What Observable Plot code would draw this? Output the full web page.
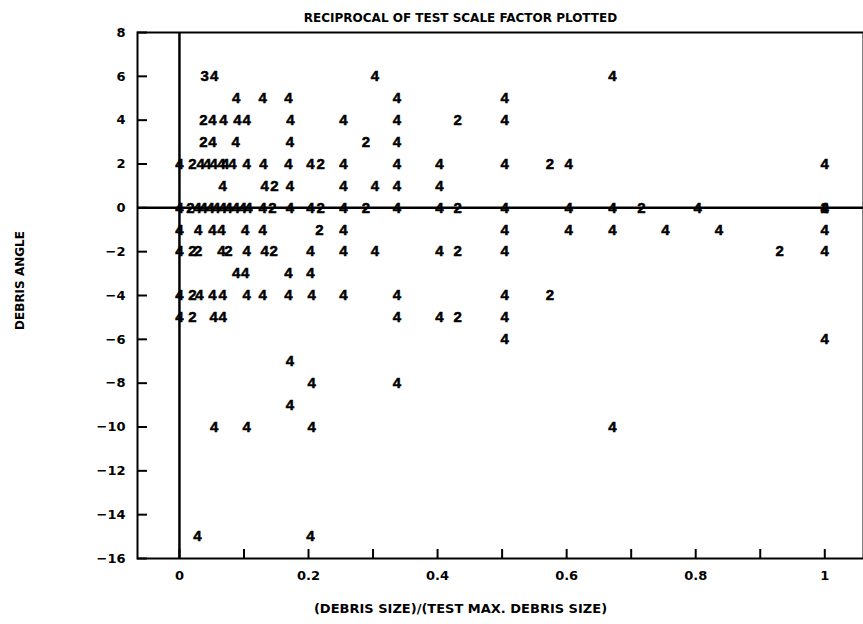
<!DOCTYPE html>
<html><head><meta charset="utf-8">
<script src="https://cdn.jsdelivr.net/npm/d3@7"></script>
<script src="https://cdn.jsdelivr.net/npm/@observablehq/plot@0.6"></script>
<style>body{margin:0;background:#fff;} svg{display:block}</style>
</head><body><div id="chart"></div>
<script>
// Plotted symbols: x = (debris size)/(test max debris size), y = debris angle, s = symbol
const xVals = [
  // y = 6
  0.039, 0.054, 0.303, 0.671,
  // y = 5
  0.088, 0.129, 0.169, 0.337, 0.504,
  // y = 4
  0.037, 0.051, 0.068, 0.090, 0.104, 0.172, 0.254, 0.337, 0.431, 0.504,
  // y = 3
  0.037, 0.051, 0.087, 0.171, 0.289, 0.337,
  // y = 2
  0, 0.020, 0.033, 0.043, 0.053, 0.065, 0.071, 0.082, 0.104, 0.130, 0.169, 0.203, 0.219, 0.254, 0.337, 0.403, 0.504, 0.574, 0.603, 1.0,
  // y = 1
  0.067, 0.132, 0.147, 0.171, 0.254, 0.303, 0.337, 0.403,
  // y = 0
  0, 0.017, 0.028, 0.037, 0.048, 0.057, 0.067, 0.076, 0.087, 0.098, 0.107, 0.129, 0.144, 0.171, 0.203, 0.219, 0.254, 0.289, 0.337, 0.403, 0.431, 0.504, 0.603, 0.671, 0.716, 0.803, 1.0, 1.0,
  // y = -1
  0, 0.029, 0.051, 0.065, 0.102, 0.129, 0.217, 0.254, 0.504, 0.603, 0.671, 0.753, 0.836, 1.0,
  // y = -2
  0, 0.020, 0.029, 0.065, 0.076, 0.104, 0.132, 0.146, 0.203, 0.254, 0.303, 0.403, 0.431, 0.504, 0.930, 1.0,
  // y = -3
  0.088, 0.102, 0.169, 0.203,
  // y = -4
  0, 0.020, 0.031, 0.051, 0.067, 0.104, 0.129, 0.169, 0.205, 0.254, 0.337, 0.504, 0.574,
  // y = -5
  0, 0.020, 0.053, 0.067, 0.337, 0.403, 0.431, 0.504,
  // y = -6
  0.504, 1.0,
  // y = -7
  0.171,
  // y = -8
  0.205, 0.337,
  // y = -9
  0.171,
  // y = -10
  0.054, 0.104, 0.205, 0.671,
  // y = -15
  0.028, 0.203
];
const yVals = [
  6,6,6,6,
  5,5,5,5,5,
  4,4,4,4,4,4,4,4,4,4,
  3,3,3,3,3,3,
  2,2,2,2,2,2,2,2,2,2,2,2,2,2,2,2,2,2,2,2,
  1,1,1,1,1,1,1,1,
  0,0,0,0,0,0,0,0,0,0,0,0,0,0,0,0,0,0,0,0,0,0,0,0,0,0,0,0,
  -1,-1,-1,-1,-1,-1,-1,-1,-1,-1,-1,-1,-1,-1,
  -2,-2,-2,-2,-2,-2,-2,-2,-2,-2,-2,-2,-2,-2,-2,-2,
  -3,-3,-3,-3,
  -4,-4,-4,-4,-4,-4,-4,-4,-4,-4,-4,-4,-4,
  -5,-5,-5,-5,-5,-5,-5,-5,
  -6,-6,
  -7,
  -8,-8,
  -9,
  -10,-10,-10,-10,
  -15,-15
];
const symbols = [
  "3","4","4","4",
  "4","4","4","4","4",
  "2","4","4","4","4","4","4","4","2","4",
  "2","4","4","4","2","4",
  "4","2","4","4","4","4","4","4","4","4","4","4","2","4","4","4","4","2","4","4",
  "4","4","2","4","4","4","4","4",
  "4","2","4","4","4","4","4","4","4","4","4","4","2","4","4","2","4","2","4","4","2","4","4","4","2","4","2","4",
  "4","4","4","4","4","4","2","4","4","4","4","4","4","4",
  "4","2","2","4","2","4","4","2","4","4","4","4","2","4","2","4",
  "4","4","4","4",
  "4","2","4","4","4","4","4","4","4","4","4","4","2",
  "4","2","4","4","4","4","2","4",
  "4","4",
  "4",
  "4","4",
  "4",
  "4","4","4","4",
  "4","4"
];
const xTickLabels = [0, 0.2, 0.4, 0.6, 0.8, 1];
const xMinorTicks = [0, 0.1, 0.2, 0.3, 0.4, 0.5, 0.6, 0.7, 0.8, 0.9, 1];
const yTickLabels = [8, 6, 4, 2, 0, -2, -4, -6, -8, -10, -12, -14, -16];
const titleText = "RECIPROCAL OF TEST SCALE FACTOR PLOTTED";
const xTitle = "(DEBRIS SIZE)/(TEST MAX. DEBRIS SIZE)";
const yTitle = "DEBRIS ANGLE";

const points = xVals.map((x, i) => ({x, y: yVals[i], s: symbols[i]}));
const labelFont = "'DejaVu Sans', Verdana, sans-serif";

const chart = Plot.plot({
  width: 863, height: 624,
  marginLeft: 137, marginRight: 0, marginTop: 32, marginBottom: 66,
  style: {fontFamily: labelFont, fontWeight: "bold", fontSize: "12px", background: "#fff", color: "#000", overflow: "visible"},
  x: {domain: [-0.065, 1.06], label: null},
  y: {domain: [-16, 8], label: null},
  marks: [
    Plot.frame({strokeWidth: 2}),
    Plot.ruleX([0], {strokeWidth: 2.5}),
    Plot.ruleY([0], {strokeWidth: 2.5}),
    Plot.tickX(xMinorTicks, {x: d => d, insetTop: 517, strokeWidth: 2}),
    Plot.tickY(yTickLabels, {y: d => d, insetRight: 716, strokeWidth: 2}),
    Plot.axisX(xTickLabels, {tickSize: 0, tickPadding: 12, tickFormat: d => String(d), fontSize: 13, fontWeight: "bold", fontFamily: labelFont}),
    Plot.axisY(yTickLabels, {tickSize: 0, tickPadding: 12, tickFormat: d => d < 0 ? "\u2212" + Math.abs(d) : String(d), fontSize: 13, fontWeight: "bold", fontFamily: labelFont}),
    Plot.text(points, {x: "x", y: "y", text: "s", fontSize: 15, fontWeight: "bold", fontFamily: "'Liberation Sans', Arial, sans-serif", fill: "black", stroke: "black", strokeWidth: 0.5}),
    Plot.text([titleText], {frameAnchor: "top", textAnchor: "middle", dx: -40, dy: -19, fontSize: 12, fontWeight: "bold", fontFamily: labelFont}),
    Plot.text([xTitle], {frameAnchor: "bottom", textAnchor: "middle", dx: -40, dy: 54, fontSize: 13, fontWeight: "bold", fontFamily: labelFont}),
    Plot.text([yTitle], {frameAnchor: "left", textAnchor: "middle", rotate: -90, dx: -117, dy: -15, fontSize: 12, fontWeight: "bold", fontFamily: labelFont})
  ]
});
document.getElementById("chart").appendChild(chart);
</script>
</body></html>
